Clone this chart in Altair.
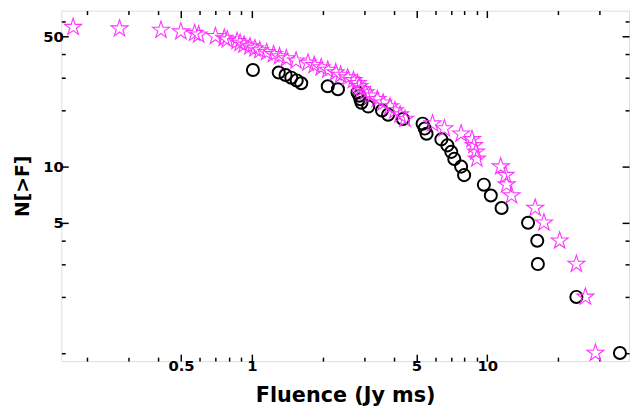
import altair as alt
import pandas as pd

# Black open circles: fluence (Jy ms) and cumulative count N[>F]
circle_fluence = [36.6, 23.9, 16.4, 16.3, 14.9, 11.5, 10.35, 9.67, 7.97, 7.74,
                  7.24, 7.03, 6.77, 6.38, 5.52, 5.42, 5.31, 4.38, 3.79, 3.57,
                  3.12, 2.92, 2.89, 2.86, 2.81, 2.32, 2.10, 1.62, 1.55, 1.47,
                  1.39, 1.30, 1.01]
circle_count = [1, 2, 3, 4, 5, 6, 7, 8, 9, 10, 11, 12, 13, 14, 15, 16, 17, 18,
                19, 20, 21, 22, 23, 24, 25, 26, 27, 28, 29, 30, 31, 32, 33]

# Magenta stars
star_fluence = [28.8, 26.1, 23.9, 20.3, 17.4, 15.97, 12.67, 12.08, 11.96, 11.4,
                9.03, 8.95, 8.78, 8.61, 7.74, 6.57, 5.85, 4.47, 4.26, 4.05,
                3.86, 3.61, 3.41, 3.18, 3.04, 2.92, 2.86, 2.81, 2.70, 2.55,
                2.38, 2.27, 2.10, 1.97, 1.84, 1.73, 1.54, 1.40, 1.31, 1.236,
                1.156, 1.08, 1.03, 0.981, 0.926, 0.891, 0.865, 0.786, 0.763, 0.700,
                0.594, 0.571, 0.499, 0.411, 0.274, 0.174]
star_count = [1, 2, 3, 4, 5, 6, 7, 8, 9, 10, 11, 12, 13, 14, 15, 16, 17, 18, 19,
              20, 21, 22, 23, 24, 25, 26, 27, 28, 29, 30, 31, 32, 33, 34, 35, 36,
              37, 38, 39, 40, 41, 42, 43, 44, 45, 46, 47, 48, 49, 50, 51, 52, 53,
              54, 55, 56]

x_major = [0.5, 1, 5, 10]
x_minor = [0.2, 0.3, 0.4, 0.6, 0.7, 0.8, 0.9, 2, 3, 4, 6, 7, 8, 9, 20, 30]
y_major = [5, 10, 50]
y_minor = [1, 2, 3, 4, 20, 30, 40, 60]

x_domain = [0.155, 40]
y_domain = [0.905, 68.7]

circles = pd.DataFrame({"F": circle_fluence, "N": circle_count})
stars = pd.DataFrame({"F": star_fluence, "N": star_count})

STAR = ("M0,-1L0.2245,-0.309L0.951,-0.309L0.363,0.118L0.588,0.809L0,0.382"
        "L-0.588,0.809L-0.363,0.118L-0.951,-0.309L-0.2245,-0.309Z")

FONT = "DejaVu Sans"


def xaxis(orient, values, major):
    kw = dict(orient=orient, values=values, grid=False, domain=False,
              ticks=True, tickColor="black", tickWidth=1.5,
              tickSize=alt.ExprRef("-7" if major else "-4"))
    if major and orient == "bottom":
        kw.update(labels=True, labelFont=FONT, labelFontWeight="bold",
                  labelFontSize=15, labelColor="black", labelPadding=5,
                  labelExpr="datum.value < 1 ? format(datum.value, '.1f') : format(datum.value, 'd')",
                  title="Fluence (Jy ms)", titleFont=FONT, titleFontWeight="bold",
                  titleFontSize=21, titleColor="black", titlePadding=11)
    else:
        kw.update(labels=False, title=None)
    return alt.Axis(**kw)


def yaxis(orient, values, major):
    kw = dict(orient=orient, values=values, grid=False, domain=False,
              ticks=True, tickColor="black", tickWidth=1.5,
              tickSize=alt.ExprRef("-7" if major else "-4"))
    if major and orient == "left":
        kw.update(labels=True, labelFont=FONT, labelFontWeight="bold",
                  labelFontSize=15, labelColor="black", labelPadding=5,
                  labelExpr="format(datum.value, 'd')",
                  title="N[>F]", titleFont=FONT, titleFontWeight="bold",
                  titleFontSize=19, titleColor="black", titlePadding=10)
    else:
        kw.update(labels=False, title=None)
    return alt.Axis(**kw)


def enc(xa, ya):
    return dict(
        x=alt.X("F:Q", scale=alt.Scale(type="log", domain=x_domain, nice=False), axis=xa),
        y=alt.Y("N:Q", scale=alt.Scale(type="log", domain=y_domain, nice=False), axis=ya),
    )


circle_layer = alt.Chart(circles).mark_point(
    shape="circle", filled=False, size=150, strokeWidth=2, color="black", opacity=1
).encode(**enc(xaxis("bottom", x_major, True), yaxis("left", y_major, True)))

star_layer = alt.Chart(stars).mark_point(
    shape=STAR, filled=False, size=330, strokeWidth=1.1, color="#ff33ff", opacity=1
).encode(**enc(xaxis("bottom", x_minor, False), yaxis("left", y_minor, False)))

top_major = alt.Chart(circles).mark_point(opacity=0).encode(
    **enc(xaxis("top", x_major, True), yaxis("right", y_major, True)))
top_minor = alt.Chart(circles).mark_point(opacity=0).encode(
    **enc(xaxis("top", x_minor, False), yaxis("right", y_minor, False)))

chart = alt.layer(circle_layer, star_layer, top_major, top_minor).resolve_axis(
    x="independent", y="independent"
).properties(
    width=575, height=355,
    autosize=alt.AutoSizeParams(type="none"),
    padding={"left": 54, "top": 0, "right": 2, "bottom": 56},
).configure_view(stroke="#666666", strokeWidth=2).configure(background="white")

chart.save("out.html", embed_options={"renderer": "svg", "actions": False})
